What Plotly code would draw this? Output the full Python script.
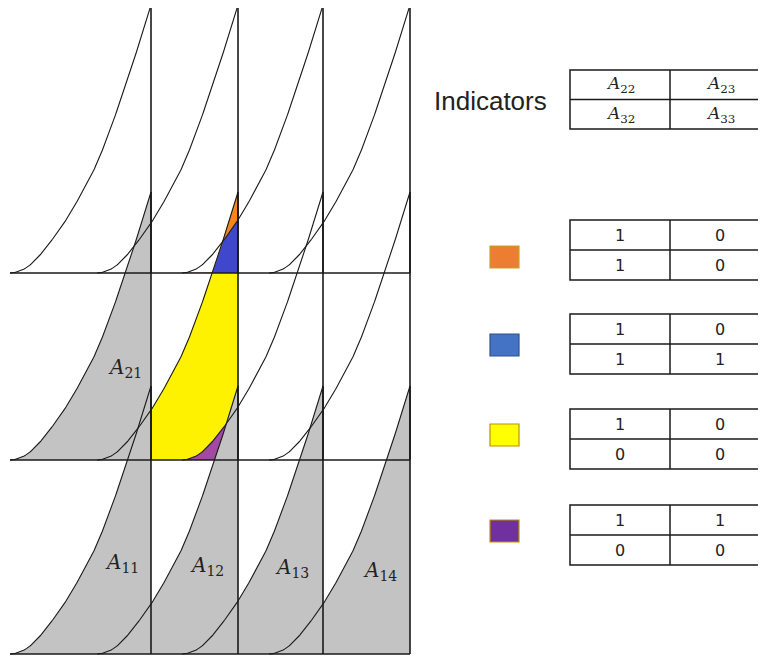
import numpy as np
import plotly.graph_objects as go

# ---------------- data ----------------
# sail outline: fraction of sail height reached at a fraction of the sail width
PROFILE_T = [0.0, 0.1, 0.2, 0.3, 0.4, 0.5, 0.6, 0.7, 0.8, 0.9, 1.0]
PROFILE_H = [0.0, 0.015, 0.06, 0.125, 0.20, 0.29, 0.39, 0.52, 0.67, 0.83, 1.0]

ROWS = [1, 2, 3]          # 1 = bottom row of sails
COLS = [1, 2, 3, 4]
GRAY_SAILS = ["A11", "A12", "A13", "A14", "A21"]
LABELED_SAILS = ["A11", "A12", "A13", "A14", "A21"]

# coloured overlap regions: grid cell (col,row) and the sails that contain them
REGION_NAMES = ["yellow", "purple", "orange", "blue"]
REGION_CELLS = [(2, 2), (2, 2), (2, 3), (2, 3)]
REGION_SAILS = [["A22"], ["A22", "A23"], ["A22", "A32"], ["A22", "A32", "A33"]]

HEADER = [["A22", "A23"], ["A32", "A33"]]
INDICATOR_NAMES = ["orange", "blue", "yellow", "purple"]
INDICATOR_VALUES = [
    [[1, 0], [1, 0]],
    [[1, 0], [1, 1]],
    [[1, 0], [0, 0]],
    [[1, 1], [0, 0]],
]

# ---------------- styles / layout ----------------
FILL = {"yellow": "#FFF200", "purple": "#A349A4", "orange": "#F7861F", "blue": "#3F48CC"}
SWATCH = {"orange": ("#ED7D31", "#C9A227"), "blue": ("#4472C4", "#2F528F"),
          "yellow": ("#FFFF00", "#BF9000"), "purple": ("#7030A0", "#BF9000")}
GRAY = "#C3C3C3"
INK = "#1a1a1a"

W, H = 766, 659
PAGE_PAD = 8          # browser default body margin
COL_EDGE = {1: 151, 2: 238, 3: 323, 4: 410}
ROW_BASE = {1: 654, 2: 460, 3: 273}
LEFT = 10
SAIL_W = 141
SAIL_H = 268
TABLE_TOPS = [220, 314, 409, 505]
SWATCH_CY = [257, 345, 435, 531]


def pchip(xk, yk, x):
    xk = np.asarray(xk, float); yk = np.asarray(yk, float); x = np.asarray(x, float)
    h = np.diff(xk); d = np.diff(yk) / h
    m = np.zeros_like(yk)
    m[0] = 0.0; m[-1] = d[-1]
    for k in range(1, len(xk) - 1):
        if d[k - 1] * d[k] <= 0:
            m[k] = 0
        else:
            w1 = 2 * h[k] + h[k - 1]; w2 = h[k] + 2 * h[k - 1]
            m[k] = (w1 + w2) / (w1 / d[k - 1] + w2 / d[k])
    idx = np.clip(np.searchsorted(xk, x) - 1, 0, len(h) - 1)
    t = (x - xk[idx]) / h[idx]
    h00 = 2 * t**3 - 3 * t**2 + 1; h10 = t**3 - 2 * t**2 + t
    h01 = -2 * t**3 + 3 * t**2; h11 = t**3 - t**2
    return h00 * yk[idx] + h10 * h[idx] * m[idx] + h01 * yk[idx + 1] + h11 * h[idx] * m[idx + 1]


class Sail:
    def __init__(self, name):
        self.row = int(name[1]); self.col = int(name[2])
        self.xe = COL_EDGE[self.col]; self.xs = self.xe - SAIL_W
        self.base = ROW_BASE[self.row]; self.top = self.base - SAIL_H

    def curve(self, x):
        t = np.clip((np.asarray(x, float) - self.xs) / SAIL_W, 0, 1)
        return self.base - SAIL_H * pchip(PROFILE_T, PROFILE_H, t)

    def outline(self, n=200):
        xs = np.linspace(self.xs, self.xe, n)
        return list(xs) + [self.xe], list(self.curve(xs)) + [self.base]


def cell_box(col, row):
    x0 = COL_EDGE[col - 1] if col > 1 else LEFT
    x1 = COL_EDGE[col]
    y0 = ROW_BASE[row + 1] if row + 1 in ROW_BASE else 0
    y1 = ROW_BASE[row]
    return x0, x1, y0, y1


def region(sails, box, n=400):
    x0, x1, y0, y1 = box
    xa = max([x0] + [s.xs for s in sails]); xb = min([x1] + [s.xe for s in sails])
    xs = np.linspace(xa, xb, n)
    top = np.maximum.reduce([np.full(n, y0)] + [s.curve(xs) for s in sails])
    bot = np.minimum.reduce([np.full(n, y1)] + [np.full(n, s.base) for s in sails])
    top = np.minimum(top, bot)
    return list(xs) + list(xs[::-1]) + [xs[0]], list(top) + list(bot[::-1]) + [top[0]]


fig = go.Figure()

# coloured overlap regions
for nm, cell, members in zip(REGION_NAMES, REGION_CELLS, REGION_SAILS):
    px, py = region([Sail(m) for m in members], cell_box(*cell))
    fig.add_trace(go.Scatter(x=px, y=py, mode="lines", fill="toself", fillcolor=FILL[nm],
                             line=dict(width=0), hoverinfo="skip", showlegend=False))

# gray sails
for nm in GRAY_SAILS:
    s = Sail(nm)
    ox, oy = s.outline()
    fig.add_trace(go.Scatter(x=ox + [s.xs], y=oy + [s.base], mode="lines", fill="toself",
                             fillcolor=GRAY, line=dict(width=0), hoverinfo="skip", showlegend=False))

# baselines
for r in ROWS:
    fig.add_trace(go.Scatter(x=[LEFT, COL_EDGE[4]], y=[ROW_BASE[r]] * 2, mode="lines",
                             line=dict(color=INK, width=1.4), hoverinfo="skip", showlegend=False))

# sail outlines
for r in ROWS:
    for c in COLS:
        s = Sail(f"A{r}{c}")
        xs = np.linspace(s.xs, s.xe, 200)
        fig.add_trace(go.Scatter(x=xs, y=s.curve(xs), mode="lines",
                                 line=dict(color=INK, width=1.1), hoverinfo="skip", showlegend=False))
        fig.add_trace(go.Scatter(x=[s.xe, s.xe], y=[s.top, s.base], mode="lines",
                                 line=dict(color=INK, width=1.6), hoverinfo="skip", showlegend=False))

annotations = []
label_dx = {"A11": -29, "A12": -31, "A13": -31, "A14": -30, "A21": -26}
label_dy = {"A11": -91, "A12": -88, "A13": -86, "A14": -83, "A21": -92}
for nm in LABELED_SAILS:
    s = Sail(nm)
    annotations.append(dict(x=s.xe + label_dx[nm], y=s.base + label_dy[nm],
                            text=f"<i>A</i><sub>{nm[1:]}</sub>", showarrow=False,
                            font=dict(family="DejaVu Serif", size=20, color="#222")))

shapes = []
TBL_X0, TBL_CW = 570, 100


def draw_table(top, rh, cells, font, size):
    right = TBL_X0 + 2 * TBL_CW + 10
    shapes.append(dict(type="rect", x0=TBL_X0, x1=right, y0=top, y1=top + 2 * rh,
                       line=dict(color=INK, width=1.5), fillcolor="rgba(0,0,0,0)"))
    shapes.append(dict(type="line", x0=TBL_X0, x1=right, y0=top + rh, y1=top + rh,
                       line=dict(color=INK, width=1.5)))
    shapes.append(dict(type="line", x0=TBL_X0 + TBL_CW, x1=TBL_X0 + TBL_CW, y0=top, y1=top + 2 * rh,
                       line=dict(color=INK, width=1.5)))
    for i in range(2):
        for j in range(2):
            annotations.append(dict(x=TBL_X0 + TBL_CW * (j + 0.5), y=top + rh * (i + 0.5),
                                    text=cells[i][j], showarrow=False,
                                    font=dict(family=font, size=size, color="#222")))


draw_table(70, 29.5, [[f"<i>A</i><sub>{v[1:]}</sub>" for v in row] for row in HEADER], "DejaVu Serif", 17)
annotations.append(dict(x=490, y=101, text="Indicators", showarrow=False,
                        font=dict(family="Liberation Sans", size=26, color="#222")))

for nm, vals, top, cy in zip(INDICATOR_NAMES, INDICATOR_VALUES, TABLE_TOPS, SWATCH_CY):
    draw_table(top, 30, [[str(v) for v in row] for row in vals], "DejaVu Sans", 16)
    fc, lc = SWATCH[nm]
    shapes.append(dict(type="rect", x0=490, x1=519, y0=cy - 11, y1=cy + 11, fillcolor=fc,
                       line=dict(color=lc, width=1.2)))

fig.update_layout(
    width=W - PAGE_PAD, height=H - PAGE_PAD, margin=dict(l=0, r=0, t=0, b=0),
    paper_bgcolor="white", plot_bgcolor="white",
    xaxis=dict(range=[PAGE_PAD, W], visible=False, fixedrange=True),
    yaxis=dict(range=[H, PAGE_PAD], visible=False, fixedrange=True),
    shapes=shapes, annotations=annotations, showlegend=False,
)
fig.write_html("out.html")
